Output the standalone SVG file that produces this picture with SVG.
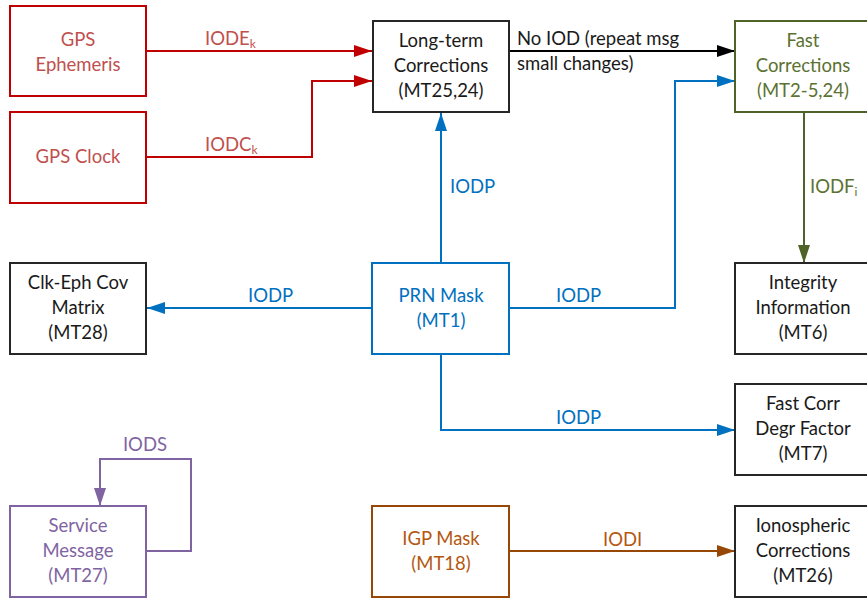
<svg xmlns="http://www.w3.org/2000/svg" width="867" height="599" viewBox="0 0 867 599">
  <style>
    text { font-family: Lato, "Open Sans", "Liberation Sans", sans-serif; font-size: 18.5px; }
    .c { text-anchor: middle; }
    .box { fill: #ffffff; stroke-width: 2; }
    .k { stroke: #262626; }
    .tk { fill: #1a1a1a; }
    .r { stroke: #c00000; }
    .tr { fill: #c0504d; }
    .g { stroke: #4f6228; }
    .tg { fill: #5b7231; }
    .b { stroke: #0070c0; }
    .tb { fill: #0070c0; }
    .p { stroke: #8064a2; }
    .tp { fill: #8064a2; }
    .o { stroke: #984806; }
    .to { fill: #b4570f; }
    .line { fill: none; stroke-width: 2; }
    .sub { font-size: 12px; }
  </style>
  <defs>
    <marker id="ar" viewBox="0 0 18 12" refX="18" refY="6" markerWidth="18" markerHeight="12" markerUnits="userSpaceOnUse" orient="auto"><path d="M0,0 L18,6 L0,12 z" fill="#c00000"/></marker>
    <marker id="ak" viewBox="0 0 18 12" refX="18" refY="6" markerWidth="18" markerHeight="12" markerUnits="userSpaceOnUse" orient="auto"><path d="M0,0 L18,6 L0,12 z" fill="#000000"/></marker>
    <marker id="ab" viewBox="0 0 18 12" refX="18" refY="6" markerWidth="18" markerHeight="12" markerUnits="userSpaceOnUse" orient="auto"><path d="M0,0 L18,6 L0,12 z" fill="#0070c0"/></marker>
    <marker id="ag" viewBox="0 0 18 12" refX="18" refY="6" markerWidth="18" markerHeight="12" markerUnits="userSpaceOnUse" orient="auto"><path d="M0,0 L18,6 L0,12 z" fill="#4f6228"/></marker>
    <marker id="ap" viewBox="0 0 18 12" refX="18" refY="6" markerWidth="18" markerHeight="12" markerUnits="userSpaceOnUse" orient="auto"><path d="M0,0 L18,6 L0,12 z" fill="#8064a2"/></marker>
    <marker id="ao" viewBox="0 0 18 12" refX="18" refY="6" markerWidth="18" markerHeight="12" markerUnits="userSpaceOnUse" orient="auto"><path d="M0,0 L18,6 L0,12 z" fill="#984806"/></marker>
  </defs>

  <rect width="867" height="599" fill="#ffffff"/>

  <!-- connectors -->
  <g id="connectors">
    <path class="line r" d="M146,51 H372" marker-end="url(#ar)"/>
    <text class="tr" x="205" y="45">IODE<tspan class="sub" dy="3">k</tspan></text>
    <path class="line r" d="M146,157 H312 V81 H372" marker-end="url(#ar)"/>
    <text class="tr" x="205" y="151">IODC<tspan class="sub" dy="3">k</tspan></text>

    <path class="line" stroke="#000000" d="M509,51 H735" marker-end="url(#ak)"/>
    <text class="tk" x="517" y="45">No IOD (repeat msg</text>
    <text class="tk" x="517" y="70">small changes)</text>

    <path class="line b" d="M441,263 V113" marker-end="url(#ab)"/>
    <text class="tb" x="450" y="193">IODP</text>

    <path class="line b" d="M509,308 H675 V81 H735" marker-end="url(#ab)"/>
    <text class="tb" x="556" y="302">IODP</text>

    <path class="line b" d="M372,308 H147" marker-end="url(#ab)"/>
    <text class="tb" x="248" y="302">IODP</text>

    <path class="line b" d="M441,354 V430 H735" marker-end="url(#ab)"/>
    <text class="tb" x="556" y="424">IODP</text>

    <path class="line g" d="M804,112 V263" marker-end="url(#ag)"/>
    <text class="tg" x="810" y="193">IODF<tspan class="sub" dy="3">i</tspan></text>

    <path class="line p" d="M146,551 H191 V459 H100 V506" marker-end="url(#ap)"/>
    <text class="tp c" x="145" y="451">IODS</text>

    <path class="line o" d="M509,551 H735" marker-end="url(#ao)"/>
    <text class="to" x="603" y="546">IODI</text>
  </g>

  <!-- nodes -->
  <g id="gps-ephemeris">
    <rect class="box r" x="10" y="6" width="136" height="90"/>
    <text class="tr c" x="78" y="46">GPS</text>
    <text class="tr c" x="78" y="71">Ephemeris</text>
  </g>
  <g id="gps-clock">
    <rect class="box r" x="10" y="112" width="136" height="91"/>
    <text class="tr c" x="78" y="163">GPS Clock</text>
  </g>
  <g id="long-term">
    <rect class="box k" x="373" y="21" width="136" height="91"/>
    <text class="tk c" x="441" y="47">Long-term</text>
    <text class="tk c" x="441" y="72">Corrections</text>
    <text class="tk c" x="441" y="97">(MT25,24)</text>
  </g>
  <g id="fast-corrections">
    <rect class="box g" x="735" y="21" width="136" height="91"/>
    <text class="tg c" x="803" y="47">Fast</text>
    <text class="tg c" x="803" y="72">Corrections</text>
    <text class="tg c" x="803" y="97">(MT2-5,24)</text>
  </g>
  <g id="clk-eph-cov">
    <rect class="box k" x="10" y="263" width="136" height="91"/>
    <text class="tk c" x="78" y="289">Clk-Eph Cov</text>
    <text class="tk c" x="78" y="314">Matrix</text>
    <text class="tk c" x="78" y="339">(MT28)</text>
  </g>
  <g id="prn-mask">
    <rect class="box b" x="372" y="263" width="137" height="91"/>
    <text class="tb c" x="441" y="302">PRN Mask</text>
    <text class="tb c" x="441" y="327">(MT1)</text>
  </g>
  <g id="integrity">
    <rect class="box k" x="735" y="263" width="136" height="91"/>
    <text class="tk c" x="803" y="289">Integrity</text>
    <text class="tk c" x="803" y="314">Information</text>
    <text class="tk c" x="803" y="339">(MT6)</text>
  </g>
  <g id="fast-corr-degr">
    <rect class="box k" x="735" y="384" width="136" height="91"/>
    <text class="tk c" x="803" y="410">Fast Corr</text>
    <text class="tk c" x="803" y="435">Degr Factor</text>
    <text class="tk c" x="803" y="460">(MT7)</text>
  </g>
  <g id="service-message">
    <rect class="box p" x="10" y="506" width="136" height="91"/>
    <text class="tp c" x="78" y="532">Service</text>
    <text class="tp c" x="78" y="557">Message</text>
    <text class="tp c" x="78" y="582">(MT27)</text>
  </g>
  <g id="igp-mask">
    <rect class="box o" x="372" y="506" width="137" height="91"/>
    <text class="to c" x="441" y="545">IGP Mask</text>
    <text class="to c" x="441" y="570">(MT18)</text>
  </g>
  <g id="ionospheric">
    <rect class="box k" x="735" y="506" width="136" height="91"/>
    <text class="tk c" x="803" y="532">Ionospheric</text>
    <text class="tk c" x="803" y="557">Corrections</text>
    <text class="tk c" x="803" y="582">(MT26)</text>
  </g>
</svg>
